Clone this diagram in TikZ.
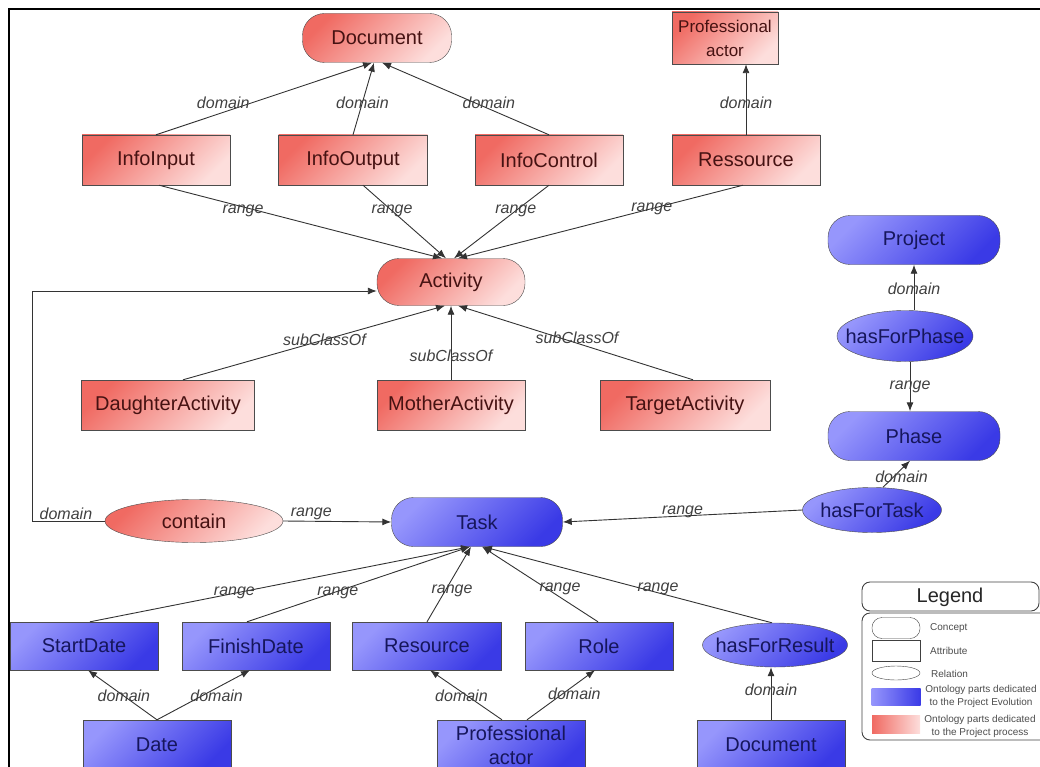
\documentclass[tikz,border=0pt]{standalone}
\usepackage{fontspec}
\setmainfont{Liberation Sans}
\usetikzlibrary{shapes.geometric,arrows.meta}

\definecolor{redtop}{RGB}{240,106,98}
\definecolor{redbot}{RGB}{253,222,220}
\definecolor{bluetop}{RGB}{150,150,252}
\definecolor{bluebot}{RGB}{58,58,230}
\definecolor{redtext}{RGB}{70,18,18}
\definecolor{bluetext}{RGB}{22,22,92}

\newcommand{\reltext}[1]{\makebox[0pt]{#1}}

\tikzset{
    concept/.style={draw=black!70, rectangle, rounded corners=22pt, minimum height=49pt, inner sep=0pt, font=\fontsize{20}{22}\selectfont},
    attrib/.style={draw=black!70, rectangle, minimum height=50pt, inner sep=0pt, align=center, font=\fontsize{20}{24}\selectfont},
    relation/.style={draw=black!70, ellipse, inner sep=0pt, font=\fontsize{20}{22}\selectfont},
    process/.style={top color=redtop, bottom color=redbot, shading angle=45, text=redtext},
    evolution/.style={top color=bluetop, bottom color=bluebot, shading angle=45, text=bluetext},
    lbl/.style={font=\itshape\fontsize{16}{18}\selectfont, text=black!75, inner sep=0pt},
    link/.style={draw=black!80, line width=0.9pt, -{Latex[length=9pt,width=7pt]}},
    legtext/.style={font=\fontsize{10}{13}\selectfont, text=black!70, inner sep=0pt}
}

\begin{document}
\begin{tikzpicture}[x=1pt, y=-1pt]
        \useasboundingbox (0,0) rectangle (1040,767);
        \draw[line width=2.5pt] (9,775) -- (9,9) -- (1045,9);

        \node[concept, process, minimum width=149pt] (document) at (377,38) {Document};
        \node[attrib, process, minimum width=106pt, minimum height=52pt, font=\fontsize{17}{24}\selectfont] (proftop) at (725,38) {Professional\\actor};
        \node[attrib, process, minimum width=148pt] (infoinput) at (156,160) {InfoInput};
        \node[attrib, process, minimum width=149pt] (infooutput) at (353,160) {InfoOutput};
        \node[attrib, process, minimum width=148pt] (infocontrol) at (549,160) {InfoControl};
        \node[attrib, process, minimum width=148pt] (ressource) at (746,160) {Ressource};
        \node[concept, process, minimum width=148pt, minimum height=47pt] (activity) at (451,282) {Activity};
        \node[attrib, process, minimum width=173pt] (daughter) at (168,405) {DaughterActivity};
        \node[attrib, process, minimum width=148pt] (mother) at (451,405) {MotherActivity};
        \node[attrib, process, minimum width=170pt] (target) at (685,405) {TargetActivity};
        \node[relation, process, minimum width=178pt, minimum height=43pt] (contain) at (194,521) {\reltext{contain}};

        \node[concept, evolution, minimum width=172pt] (project) at (914,240) {Project};
        \node[relation, evolution, minimum width=136pt, minimum height=51pt] (hasforphase) at (905,336) {\reltext{hasForPhase}};
        \node[concept, evolution, minimum width=172pt] (phase) at (914,436) {Phase};
        \node[relation, evolution, minimum width=139pt, minimum height=45pt] (hasfortask) at (872,510) {\reltext{hasForTask}};
        \node[concept, evolution, minimum width=171pt] (task) at (477,522) {Task};
        \node[attrib, evolution, minimum width=148pt, minimum height=48pt] (startdate) at (84,646) {StartDate};
        \node[attrib, evolution, minimum width=148pt, minimum height=48pt] (finishdate) at (256,646) {FinishDate};
        \node[attrib, evolution, minimum width=149pt, minimum height=48pt] (resource) at (427,646) {Resource};
        \node[attrib, evolution, minimum width=148pt, minimum height=48pt] (role) at (599,646) {Role};
        \node[relation, evolution, minimum width=145pt, minimum height=44pt] (hasforresult) at (775,645) {\reltext{hasForResult}};
        \node[attrib, evolution, minimum width=148pt] (date) at (157,745) {Date};
        \node[attrib, evolution, minimum width=148pt] (profbottom) at (511,745) {Professional\\actor};
        \node[attrib, evolution, minimum width=148pt] (docbottom) at (771,745) {Document};

        \draw[link] (infoinput.north) -- node[lbl, pos=.45, xshift=-30pt] {domain} ([xshift=-5pt]document.south);
        \draw[link] (infooutput.north) -- node[lbl, pos=.45] {domain} ([xshift=-3pt]document.south);
        \draw[link] (infocontrol.north) -- node[lbl, pos=.45, xshift=15pt] {domain} ([xshift=5pt]document.south);
        \draw[link] (ressource.north) -- node[lbl, pos=.45] {domain} (ressource.north |- proftop.south);

        \draw[link] ([xshift=3pt]infoinput.south) -- node[lbl, pos=.35, xshift=-15pt] {range} ([xshift=-9pt]activity.north);
        \draw[link] ([xshift=10pt]infooutput.south) -- node[lbl, pos=.35] {range} ([xshift=-5pt]activity.north);
        \draw[link] (infocontrol.south) -- node[lbl, pos=.35] {range} ([xshift=3pt]activity.north);
        \draw[link] ([xshift=-3pt]ressource.south) -- node[lbl, pos=.32] {range} ([xshift=7pt]activity.north);

        \draw[link] ([xshift=15pt]daughter.north) -- node[lbl, pos=.54] {subClassOf} ([xshift=-6pt]activity.south);
        \draw[link] (mother.north) -- node[lbl, pos=.33] {subClassOf} (activity.south);
        \draw[link] ([xshift=8pt]target.north) -- node[lbl, pos=.57, xshift=18pt] {subClassOf} ([xshift=7pt]activity.south);

        \draw[link] (contain.west) -- node[lbl, above=1pt, pos=.54] {domain} ++(-72,0) |- ([yshift=-9pt]activity.west);
        \draw[link] (contain.east) -- node[lbl, above=1pt, pos=.26] {range} (task.west);

        \draw[link] (hasforphase.north -| project.south) -- node[lbl, pos=.48] {domain} (project.south);
        \draw[link] ([xshift=5pt]hasforphase.south) -- node[lbl, pos=.5] {range} ([xshift=-4pt]phase.north);
        \draw[link] ([xshift=11pt]hasfortask.north) -- node[lbl, pos=.39, xshift=8pt] {domain} ([xshift=-4pt]phase.south);
        \draw[link] (hasfortask.west) -- node[lbl, pos=.5, yshift=4pt] {range} (task.east);

        \draw[link] ([xshift=6pt]startdate.north) -- node[lbl, pos=.38] {range} ([xshift=-7pt]task.south);
        \draw[link] ([xshift=-9pt]finishdate.north) -- node[lbl, pos=.38, xshift=6pt] {range} ([xshift=-7pt]task.south);
        \draw[link] (resource.north) -- node[lbl, pos=.41, xshift=7pt] {range} ([xshift=-6pt]task.south);
        \draw[link] ([xshift=-1pt]role.north) -- node[lbl, pos=.44, xshift=13pt] {range} ([xshift=5pt]task.south);
        \draw[link] ([xshift=-3pt]hasforresult.north) -- node[lbl, pos=.45, xshift=16pt] {range} ([xshift=6pt]task.south);

        \draw[link] (date.north) -- node[lbl, pos=.48] {domain} ([xshift=4pt]startdate.south);
        \draw[link] (date.north) -- node[lbl, pos=.48, xshift=15pt] {domain} ([xshift=-6pt]finishdate.south);
        \draw[link] ([xshift=-9pt]profbottom.north) -- node[lbl, pos=.48, xshift=-6pt] {domain} ([xshift=3pt]resource.south);
        \draw[link] ([xshift=16pt]profbottom.north) -- node[lbl, pos=.52, xshift=12pt] {domain} ([xshift=-4pt]role.south);
        \draw[link] (docbottom.north) -- node[lbl, pos=.58] {domain} (docbottom.north |- hasforresult.south);

        \draw[black!75, line width=0.9pt, rounded corners=8pt] (862,582) rectangle (1039,611);
        \node[font=\fontsize{20}{22}\selectfont, text=black!85] (legendtitle) at (950,597) {Legend};
        \draw[black!75, line width=0.9pt, rounded corners=8pt] (862,613) rectangle (1070,740);
        \node[draw=black!75, rounded corners=10pt, minimum width=48pt, minimum height=21pt] (legconcept) at (896,628) {};
        \node[legtext, anchor=west] (legconcepttext) at (930,628) {Concept};
        \node[draw=black!75, minimum width=48pt, minimum height=21pt] (legattrib) at (896,651) {};
        \node[legtext, anchor=west] (legattribtext) at (930,651) {Attribute};
        \node[draw=black!75, ellipse, minimum width=48pt, minimum height=14pt, inner sep=0pt] (legrelation) at (896,673) {};
        \node[legtext, anchor=west] (legrelationtext) at (931,674) {Relation};
        \node[left color=bluetop, right color=bluebot, minimum width=49pt, minimum height=17pt] (legblue) at (896,697) {};
        \node[legtext, align=center] (legbluetext) at (981,696) {Ontology parts dedicated\\to the Project Evolution};
        \node[left color=redtop, right color=redbot, minimum width=48pt, minimum height=18pt] (legred) at (896,724) {};
        \node[legtext, align=center] (legredtext) at (980,726) {Ontology parts dedicated\\to the Project process};
    \end{tikzpicture}
\end{document}
